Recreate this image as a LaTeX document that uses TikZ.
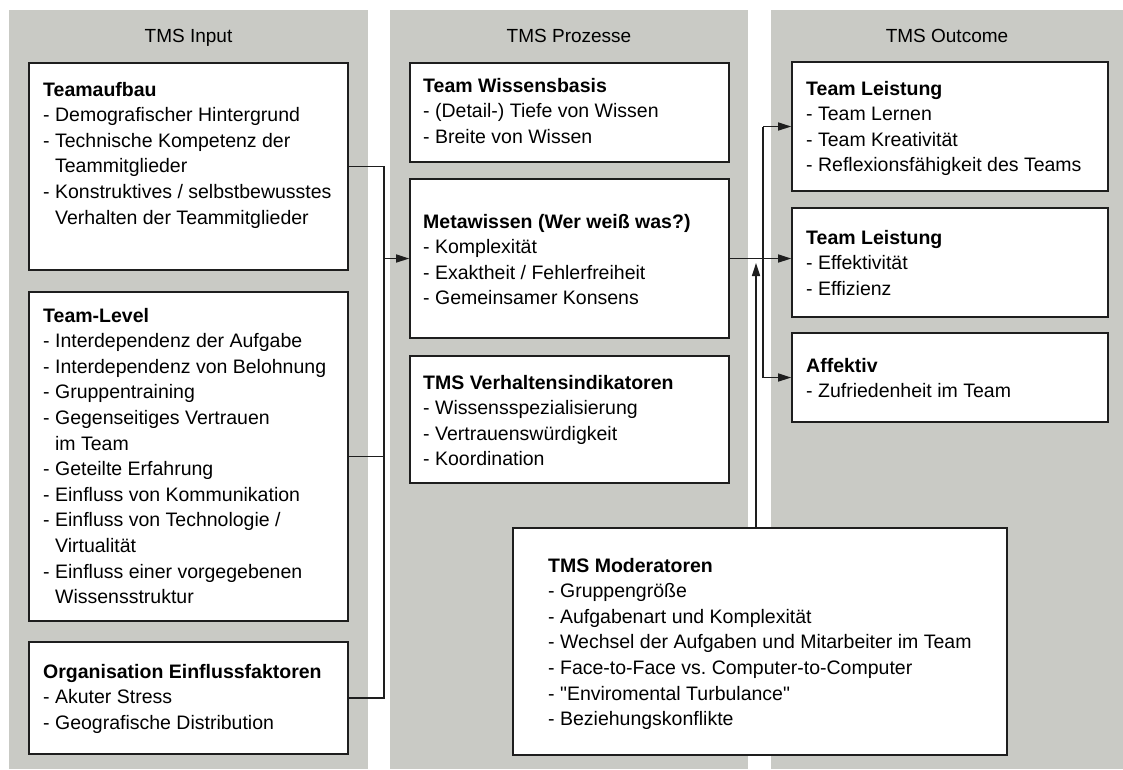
\documentclass[tikz,border=0pt]{standalone}
\usepackage{fontspec}
\setmainfont{Liberation Sans}[Ligatures=TeXOff]
\usetikzlibrary{arrows.meta}
\definecolor{panelgray}{RGB}{201,202,197}
\definecolor{boxline}{RGB}{30,30,30}
\newcommand{\ind}{\phantom{- }}
\newcommand{\sq}{\char34\relax}
\frenchspacing
\begin{document}
\begin{tikzpicture}[x=1pt,y=-1pt,
  box/.style={draw=boxline, line width=1.6pt, fill=white, inner sep=0pt, minimum width=319pt},
  txt/.style={anchor=base west, align=left, inner sep=0pt, font=\fontsize{19.5}{25.6}\selectfont},
  head/.style={anchor=base, inner sep=0pt, font=\fontsize{19}{23}\selectfont},
  conn/.style={line width=1.6pt, draw=boxline},
  arr/.style={conn, -{Triangle[length=13pt,width=8pt]}}]
\useasboundingbox (0,0) rectangle (1123,769);
\fill[white] (0,0) rectangle (1123,769);
% panels
\fill[panelgray] (9,10) rectangle (368,769);
\fill[panelgray] (390,10) rectangle (748,769);
\fill[panelgray] (771,10) rectangle (1123,769);
\node[head] (h1) at (188.5,42) {TMS Input};
\node[head] (h2) at (569,42) {TMS Prozesse};
\node[head] (h3) at (947,42) {TMS Outcome};
% column 1 (text nodes are placed at the baseline of their last line)
\node[box, minimum height=207pt] (b1) at (188.5,166.5) {};
\node[box, minimum height=329pt] (b2) at (188.5,456.5) {};
\node[box, minimum height=112pt] (b3) at (188.5,698) {};
\node[txt] (t1) at (43,224) {\textbf{Teamaufbau}\\- Demografischer Hintergrund\\- Technische Kompetenz der\\\ind Teammitglieder\\- Konstruktives / selbstbewusstes\\\ind Verhalten der Teammitglieder};
\node[txt] (t2) at (43,603.6) {\textbf{Team-Level}\\- Interdependenz der Aufgabe\\- Interdependenz von Belohnung\\- Gruppentraining\\- Gegenseitiges Vertrauen\\\ind im Team\\- Geteilte Erfahrung\\- Einfluss von Kommunikation\\- Einfluss von Technologie /\\\ind Virtualität\\- Einfluss einer vorgegebenen\\\ind Wissensstruktur};
\node[txt] (t3) at (43,729.2) {\textbf{Organisation Einflussfaktoren}\\- Akuter Stress\\- Geografische Distribution};
% column 2
\node[box, minimum height=99pt] (b4) at (569.5,112.5) {};
\node[box, minimum height=159pt] (b5) at (569.5,258.5) {};
\node[box, minimum height=127pt] (b6) at (569.5,419.5) {};
\node[txt] (t4) at (423,143.2) {\textbf{Team Wissensbasis}\\- (Detail-) Tiefe von Wissen\\- Breite von Wissen};
\node[txt] (t5) at (423,304.8) {\textbf{Metawissen (Wer weiß was?)}\\- Komplexität\\- Exaktheit / Fehlerfreiheit\\- Gemeinsamer Konsens};
\node[txt] (t6) at (423,465.8) {\textbf{TMS Verhaltensindikatoren}\\- Wissensspezialisierung\\- Vertrauenswürdigkeit\\- Koordination};
% column 3
\node[box, minimum width=316pt, minimum height=129pt] (b7) at (950,126.5) {};
\node[box, minimum width=316pt, minimum height=109pt] (b8) at (950,262.5) {};
\node[box, minimum width=316pt, minimum height=89pt] (b9) at (950,377.5) {};
\node[txt] (t7) at (806,171.8) {\textbf{Team Leistung}\\- Team Lernen\\- Team Kreativität\\- Reflexionsfähigkeit des Teams};
\node[txt] (t8) at (806,295.2) {\textbf{Team Leistung}\\- Effektivität\\- Effizienz};
\node[txt] (t9) at (806,397.6) {\textbf{Affektiv}\\- Zufriedenheit im Team};
% moderators
\node[box, minimum width=494pt, minimum height=227pt] (b10) at (760,641.5) {};
\node[txt] (t10) at (548,725.6) {\textbf{TMS Moderatoren}\\- Gruppengröße\\- Aufgabenart und Komplexität\\- Wechsel der Aufgaben und Mitarbeiter im Team\\- Face-to-Face vs. Computer-to-Computer\\- \sq Enviromental Turbulance\sq\\- Beziehungskonflikte};
% connectors
\coordinate (busL) at (384,0);
\coordinate (busR) at (763,0);
\coordinate (modtip) at (756,263);
\draw[conn] (b1.east) -- (b1.east -| busL) -- (b3.east -| busL) -- (b3.east);
\draw[conn] (b2.east) -- (b2.east -| busL);
\draw[arr] (b5.west -| busL) -- (b5.west);
\draw[arr] (b5.east) -- (b5.east -| b8.west);
\draw[conn] (b7.west -| busR) -- (b9.west -| busR);
\draw[arr] (b7.west -| busR) -- (b7.west);
\draw[arr] (b9.west -| busR) -- (b9.west);
\draw[arr] (b10.north -| modtip) -- (modtip);
\end{tikzpicture}
\end{document}
